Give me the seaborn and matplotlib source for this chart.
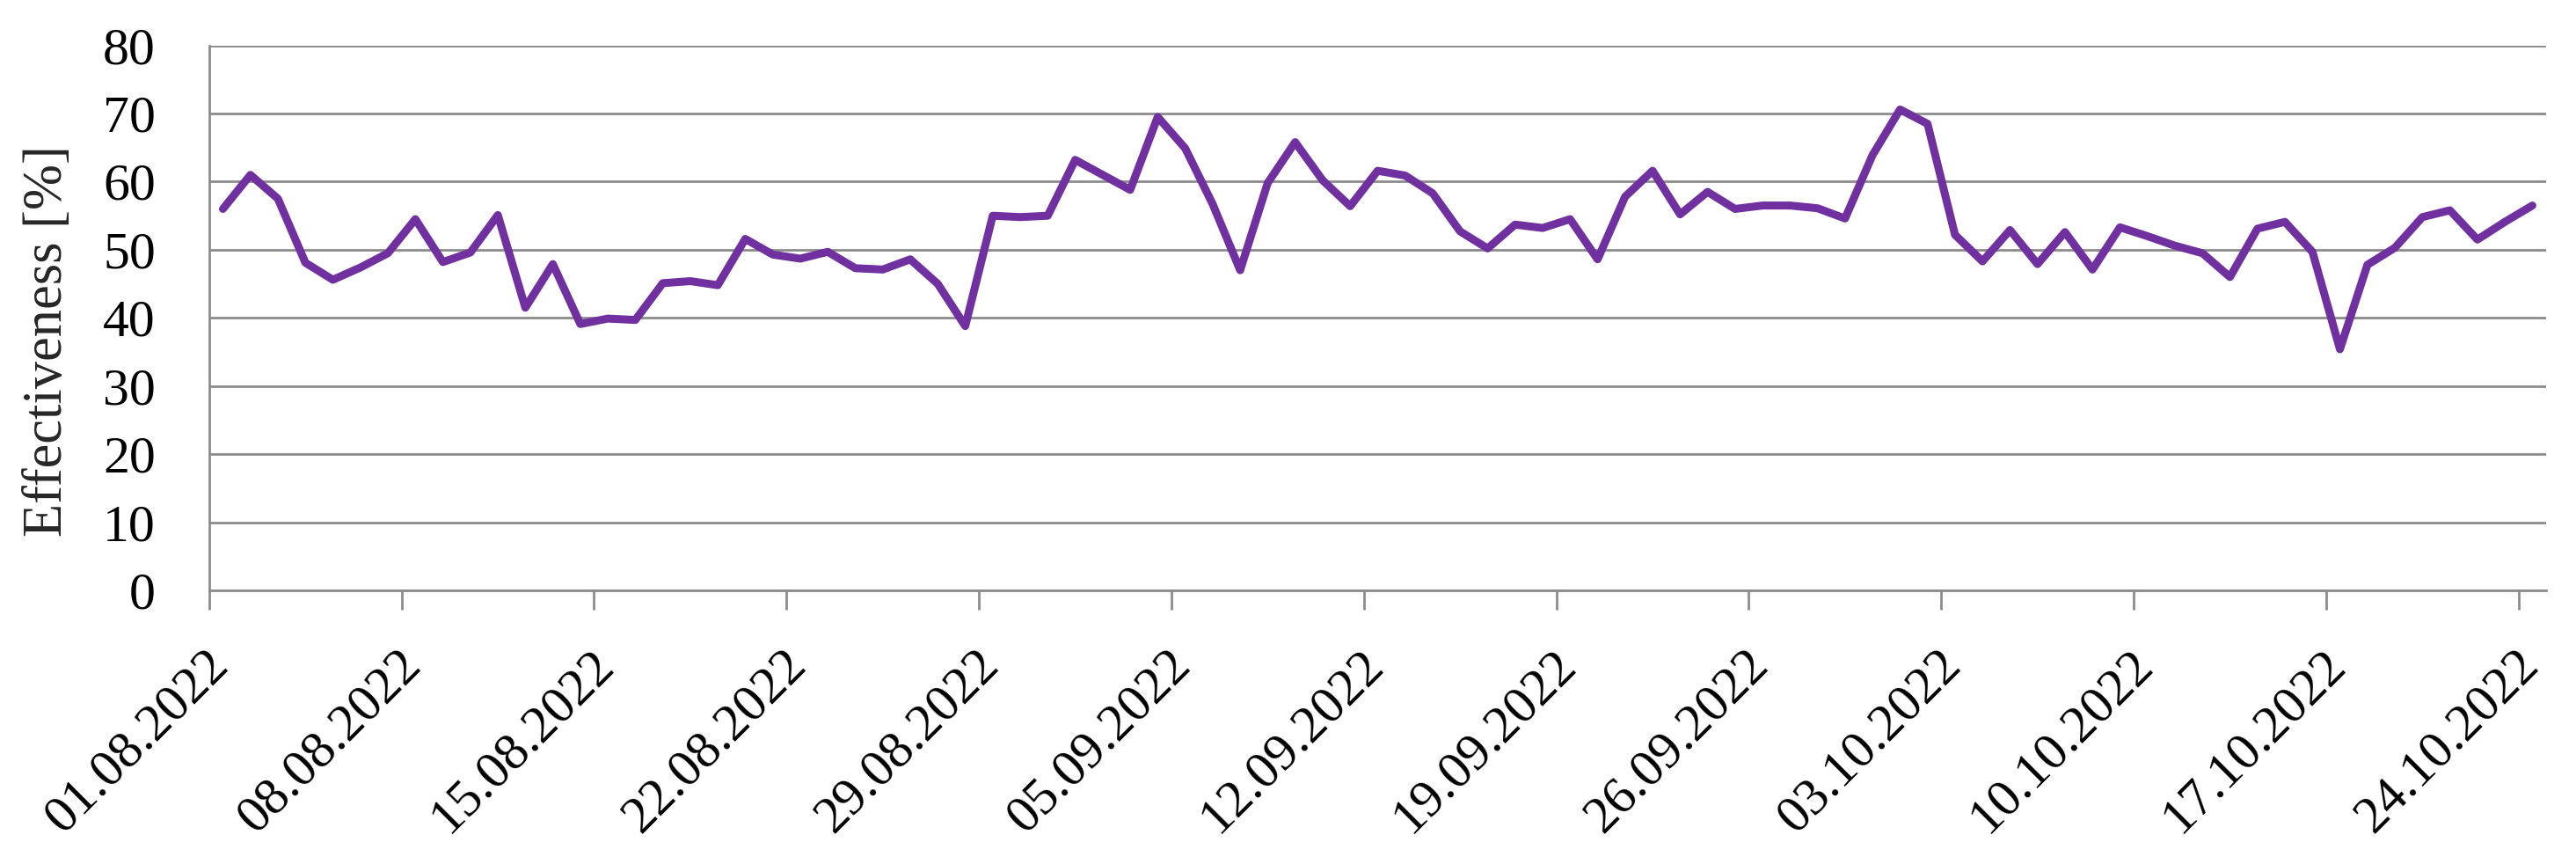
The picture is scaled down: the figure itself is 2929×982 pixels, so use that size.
import pandas as pd
import matplotlib
matplotlib.use("Agg")
import matplotlib.pyplot as plt
import matplotlib.transforms as mtransforms
import seaborn as sns

# daily effectiveness, 01.08.2022 - 24.10.2022
dates = pd.date_range("2022-08-01", "2022-10-24", freq="D")
effectiveness = [
    56.0, 61.0, 57.5, 48.1, 45.6, 47.4, 49.5, 54.5, 48.2, 49.6,
    55.1, 41.5, 47.9, 39.1, 39.9, 39.7, 45.1, 45.4, 44.8, 51.6,
    49.3, 48.7, 49.7, 47.3, 47.1, 48.6, 45.0, 38.8, 55.0, 54.8,
    55.0, 63.2, 61.0, 58.8, 69.5, 64.9, 56.7, 47.0, 59.8, 65.8,
    60.2, 56.4, 61.6, 60.9, 58.3, 52.7, 50.2, 53.7, 53.2, 54.5,
    48.6, 57.8, 61.6, 55.2, 58.5, 56.0, 56.5, 56.5, 56.1, 54.6,
    63.9, 70.6, 68.5, 52.2, 48.3, 52.9, 47.9, 52.6, 47.1, 53.3,
    52.0, 50.6, 49.5, 46.0, 53.1, 54.1, 49.7, 35.4, 47.8, 50.3,
    54.8, 55.8, 51.5, 54.1, 56.5,
]
y_ticks = [0, 10, 20, 30, 40, 50, 60, 70, 80]

df = pd.DataFrame({"Date": dates, "Effectiveness": effectiveness})

sns.set_theme(style="white")
plt.rcParams["font.family"] = ["Liberation Serif", "DejaVu Serif"]

grey = "#8c8c8c"
fig = plt.figure(figsize=(29.29, 9.82), dpi=100)
ax = fig.add_axes([0.0812, 0.3167, 0.9072, 0.6307])

sns.lineplot(data=df, x="Date", y="Effectiveness", color="#7030A0",
             linewidth=6.5, ax=ax)

# ticks on category boundaries, points in the middle (Excel style)
half = pd.Timedelta(hours=12)
ax.set_xlim(dates[0] - half, dates[-1] + half)
ax.set_xticks(dates[::7] - half)
ax.set_ylim(0, 80)
ax.set_yticks(y_ticks)

ax.yaxis.grid(True, color=grey, linewidth=2)
ax.xaxis.grid(False)
for s in ["top", "right"]:
    ax.spines[s].set_visible(False)
for s in ["left", "bottom"]:
    ax.spines[s].set_color(grey)
    ax.spines[s].set_linewidth(2)

ax.tick_params(axis="both", which="major", length=16, width=2, color=grey,
               labelsize=43, labelcolor="black", direction="out")
ax.tick_params(axis="y", pad=28)
ax.tick_params(axis="x", pad=39, bottom=True)
ax.set_xticklabels([d.strftime("%d.%m.%Y") for d in dates[::7]],
                   rotation=45, ha="right", va="center", rotation_mode="anchor")
ax.set_xlabel("")
ax.set_ylabel("Effectiveness [%]", fontsize=45)
ax.yaxis.set_label_coords(-0.0578, 0.457)

# nudge date labels a bit to the right, after all tick_params calls
shift = mtransforms.ScaledTranslation(14 / 100, 0, fig.dpi_scale_trans)
for lbl in ax.get_xticklabels():
    lbl.set_transform(lbl.get_transform() + shift)

fig.savefig("out.png", dpi=100)
